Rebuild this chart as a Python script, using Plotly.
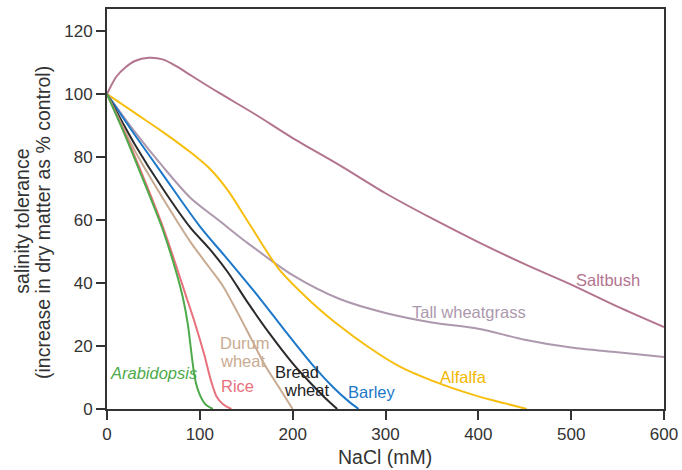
import plotly.graph_objects as go

# ---- data (NaCl mM vs. % dry matter of control) ----
saltbush_x = [0, 10, 20, 30, 45, 60, 75, 90, 120, 160, 200, 250, 300, 350, 400, 450, 500, 550, 600]
saltbush_y = [100, 105.5, 108.5, 110.5, 111.5, 111, 108.8, 106, 100.5, 93.5, 86, 77.5, 68.5, 60.5, 53, 46, 39.5, 32.5, 26]

tallwg_x = [0, 30, 60, 90, 120, 150, 200, 250, 300, 350, 400, 450, 500, 550, 600]
tallwg_y = [100, 88, 77, 67, 60, 53, 42.5, 35, 30.5, 27.5, 25.5, 22, 19.5, 18, 16.5]

alfalfa_x = [0, 30, 60, 90, 110, 130, 155, 185, 220, 250, 280, 315, 350, 400, 430, 452]
alfalfa_y = [100, 94, 88, 81.5, 76.5, 69.5, 58, 44.5, 34, 26.5, 20, 13.5, 9, 4, 1.7, 0]

barley_x = [0, 30, 60, 100, 130, 165, 190, 220, 245, 260, 271]
barley_y = [100, 87, 74.5, 58, 47.5, 35, 25.5, 14.5, 6.5, 2.5, 0]

bread_x = [0, 30, 60, 90, 110, 130, 150, 175, 200, 220, 235, 248]
bread_y = [100, 84, 70, 57.5, 51, 43.5, 34.5, 24, 14.5, 8, 3.5, 0]

durum_x = [0, 30, 60, 90, 110, 125, 140, 155, 170, 185, 200]
durum_y = [100, 82, 67, 53, 45, 39, 31, 22.5, 14, 7, 0]

rice_x = [0, 20, 40, 60, 75, 85, 95, 105, 112, 118, 125, 134]
rice_y = [100, 87, 73, 58, 45, 36, 27, 17, 9, 4, 1.5, 0]

arab_x = [0, 20, 40, 60, 75, 82, 87, 90, 93, 96, 100, 106, 114]
arab_y = [100, 86.5, 72, 57, 43, 35, 27, 20, 13, 8, 4.5, 1.5, 0]

x_ticks = [0, 100, 200, 300, 400, 500, 600]
y_ticks = [0, 20, 40, 60, 80, 100, 120]

FONT = "Liberation Sans, Arial, sans-serif"
AX = "#333333"

series = [
    (saltbush_x, saltbush_y, "#b3748f"),
    (tallwg_x, tallwg_y, "#ad98ad"),
    (alfalfa_x, alfalfa_y, "#f7be0e"),
    (barley_x, barley_y, "#1c78c8"),
    (bread_x, bread_y, "#2b2b2b"),
    (durum_x, durum_y, "#c9ab92"),
    (rice_x, rice_y, "#e8707c"),
    (arab_x, arab_y, "#4daa4a"),
]

fig = go.Figure()
for xs, ys, c in series:
    fig.add_trace(go.Scatter(x=xs, y=ys, mode="lines",
                             line=dict(color=c, width=2, shape="spline", smoothing=0.8),
                             hoverinfo="skip", showlegend=False))

labels = [
    ("Saltbush", 540, 41, "#b3748f", "center", False),
    ("Tall wheatgrass", 389.5, 30.9, "#ad98ad", "center", False),
    ("Alfalfa", 384.5, 10.3, "#f2b800", "center", False),
    ("Barley", 285, 5.5, "#1c78c8", "center", False),
    ("Bread", 205, 11.9, "#222222", "center", False),
    ("wheat", 215, 6.1, "#222222", "center", False),
    ("Durum", 120, 21.1, "#c9ab92", "left", False),
    ("wheat", 120, 15.4, "#c9ab92", "left", False),
    ("Rice", 141, 7.3, "#e8707c", "center", False),
    ("Arabidopsis", 50.3, 11.5, "#4daa4a", "center", True),
]
for t, x, y, c, anc, ital in labels:
    fig.add_annotation(x=x, y=y, text=(f"<i>{t}</i>" if ital else t), showarrow=False,
                       xanchor=anc, yanchor="middle",
                       font=dict(family=FONT, size=16.5, color=c))

# y-axis title (two lines)
fig.add_annotation(xref="paper", yref="paper", x=(21.7 - 107) / 557, y=(409 - 221) / 400,
                   text="salinity tolerance", textangle=-90, showarrow=False,
                   xanchor="center", yanchor="middle", font=dict(family=FONT, size=19.5, color=AX))
fig.add_annotation(xref="paper", yref="paper", x=(43 - 107) / 557, y=(409 - 223) / 400,
                   text="(increase in dry matter as % control)", textangle=-90, showarrow=False,
                   xanchor="center", yanchor="middle", font=dict(family=FONT, size=19.5, color=AX))
# x-axis title
fig.add_annotation(xref="paper", yref="paper", x=(385 - 107) / 557, y=(409 - 457) / 400,
                   text="NaCl (mM)", showarrow=False, xanchor="center", yanchor="middle",
                   font=dict(family=FONT, size=19.5, color=AX))

fig.update_layout(
    width=682, height=470,
    margin=dict(l=107, r=18, t=9, b=61, autoexpand=False),
    paper_bgcolor="white", plot_bgcolor="white",
    font=dict(family=FONT, color=AX),
)
fig.update_xaxes(range=[0, 600], tickvals=x_ticks, ticks="outside", ticklen=9, tickwidth=1.5,
                 tickcolor=AX, showline=True, linecolor=AX, linewidth=2, mirror=True, automargin=False,
                 showgrid=False, zeroline=False, tickfont=dict(size=17, color=AX, family=FONT))
fig.update_yaxes(range=[0, 127], tickvals=y_ticks, ticks="outside", ticklen=9, tickwidth=1.5,
                 tickcolor=AX, showline=True, linecolor=AX, linewidth=2, mirror=True, automargin=False,
                 showgrid=False, zeroline=False, tickfont=dict(size=17, color=AX, family=FONT))

fig.write_html("out.html")
